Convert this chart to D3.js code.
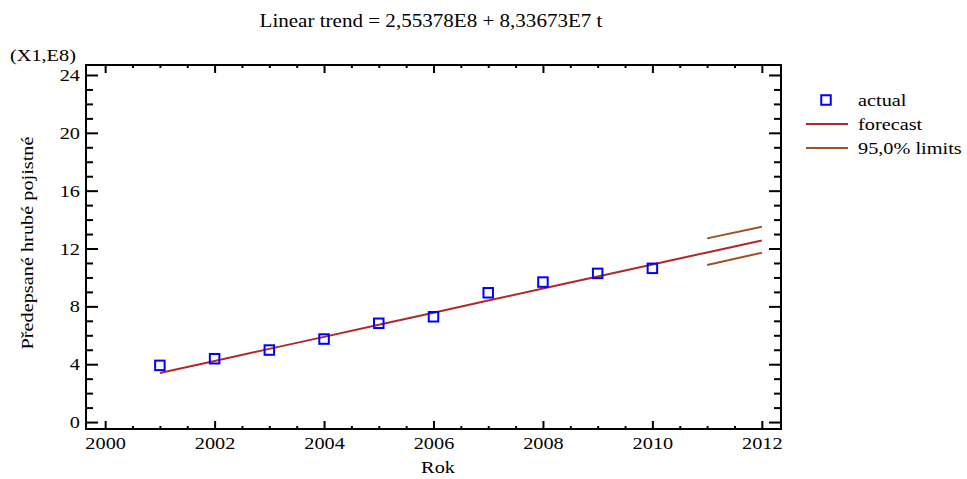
<!DOCTYPE html>
<html>
<head>
<meta charset="utf-8">
<script src="https://cdn.jsdelivr.net/npm/d3@7"></script>
<style>
  html, body { margin: 0; padding: 0; background: #fff; }
  svg { display: block; }
  text { font-family: "Liberation Serif", "Times New Roman", serif; fill: #000; }
</style>
</head>
<body>
<svg id="chart" width="967" height="479"></svg>
<script>
// Observed yearly values (×1E8)
const years = [2001, 2002, 2003, 2004, 2005, 2006, 2007, 2008, 2009, 2010];
const actual = [3.92, 4.38, 4.98, 5.74, 6.83, 7.28, 8.94, 9.68, 10.28, 10.63];

// Linear trend fitted values and forecast (×1E8)
const forecastYears = [2001, 2002, 2003, 2004, 2005, 2006, 2007, 2008, 2009, 2010, 2011, 2012];
const forecast = [3.39, 4.22, 5.06, 5.89, 6.73, 7.56, 8.40, 9.23, 10.06, 10.90, 11.73, 12.56];

// 95% forecast limits
const limitYears = [2011, 2012];
const upperLimit = [12.70, 13.51];
const lowerLimit = [10.86, 11.71];

// Axis ticks
const xMajor = [2000, 2002, 2004, 2006, 2008, 2010, 2012];
const yMajor = [0, 4, 8, 12, 16, 20, 24];

const titleText = "Linear trend = 2,55378E8 + 8,33673E7 t";
const xTitle = "Rok";
const yTitle = "Předepsané hrubé pojistné";
const yUnit = "(X1,E8)";
const legendLabels = ["actual", "forecast", "95,0% limits"];

const colors = { actual: "#0000ff", forecast: "#b0282c", limits: "#a0521e" };

const svg = d3.select("#chart");
const plot = { left: 86, right: 781, top: 65, bottom: 429 };
const SX = 1.16; // horizontal stretch of text glyphs

const x = d3.scaleLinear().domain([1999.65, 2012.35]).range([plot.left, plot.right]);
const y = d3.scaleLinear().domain([-0.48, 24.69]).range([plot.bottom, plot.top]);

const xMinor = d3.range(2000, 2012.01, 0.5).filter(v => !xMajor.includes(v));
const yMinor = d3.range(0, 24.01, 1).filter(v => !yMajor.includes(v));

function stretchText(sel, sx = SX) {
  sel.each(function () {
    const t = d3.select(this);
    const tx = +t.attr("x") || 0, ty = +t.attr("y") || 0;
    t.attr("x", 0).attr("y", 0)
     .attr("transform", `translate(${tx},${ty}) scale(${sx},1)`);
  });
}

// Bottom axis: inward ticks, labels below
const gx = svg.append("g").attr("transform", `translate(0,${plot.bottom})`)
  .call(d3.axisBottom(x).tickValues(xMajor).tickFormat(d3.format("d")).tickSizeInner(-8).tickSizeOuter(0).tickPadding(8));
gx.append("g").call(d3.axisBottom(x).tickValues(xMinor).tickFormat("").tickSizeInner(-3).tickSizeOuter(0));

// Top axis: inward ticks only
const gt = svg.append("g").attr("transform", `translate(0,${plot.top})`)
  .call(d3.axisTop(x).tickValues(xMajor).tickFormat("").tickSizeInner(-8).tickSizeOuter(0));
gt.append("g").call(d3.axisTop(x).tickValues(xMinor).tickFormat("").tickSizeInner(-3).tickSizeOuter(0));

// Left axis: inward ticks, labels left
const gy = svg.append("g").attr("transform", `translate(${plot.left},0)`)
  .call(d3.axisLeft(y).tickValues(yMajor).tickFormat(d3.format("d")).tickSizeInner(-12).tickSizeOuter(0).tickPadding(6));
gy.append("g").call(d3.axisLeft(y).tickValues(yMinor).tickFormat("").tickSizeInner(-7).tickSizeOuter(0));

// Right axis: inward ticks only
const gr = svg.append("g").attr("transform", `translate(${plot.right},0)`)
  .call(d3.axisRight(y).tickValues(yMajor).tickFormat("").tickSizeInner(-12).tickSizeOuter(0));
gr.append("g").call(d3.axisRight(y).tickValues(yMinor).tickFormat("").tickSizeInner(-7).tickSizeOuter(0));

svg.selectAll(".domain").remove();
svg.selectAll(".tick line").attr("stroke", "#000").attr("stroke-width", 2);
svg.selectAll(".tick text").attr("font-size", 17.5).style("font-family", '"Liberation Serif", serif').attr("fill", "#000");
// stretch tick label glyphs horizontally around their anchor
gx.selectAll(".tick text").attr("transform", `scale(${SX},1)`);
gy.selectAll(".tick text").attr("transform", `scale(${SX},1)`).attr("x", -6 / SX);

// Frame
svg.append("rect")
  .attr("x", plot.left).attr("y", plot.top)
  .attr("width", plot.right - plot.left).attr("height", plot.bottom - plot.top)
  .attr("fill", "none").attr("stroke", "#000").attr("stroke-width", 2);

// Forecast line
const line = d3.line().x(d => x(d[0])).y(d => y(d[1]));
svg.append("path")
  .datum(d3.zip(forecastYears, forecast))
  .attr("d", line).attr("fill", "none")
  .attr("stroke", colors.forecast).attr("stroke-width", 2);

// Limits
[upperLimit, lowerLimit].forEach(lim => {
  svg.append("path")
    .datum(d3.zip(limitYears, lim))
    .attr("d", line).attr("fill", "none")
    .attr("stroke", colors.limits).attr("stroke-width", 2);
});

// Actual points
const ms = 9.5;
svg.append("g").selectAll("rect")
  .data(d3.zip(years, actual))
  .join("rect")
  .attr("x", d => x(d[0]) - ms / 2).attr("y", d => y(d[1]) - ms / 2)
  .attr("width", ms).attr("height", ms)
  .attr("fill", "none").attr("stroke", colors.actual).attr("stroke-width", 2);

// Title
svg.append("text").attr("x", 431).attr("y", 27)
  .attr("text-anchor", "middle").attr("font-size", 18).text(titleText).call(stretchText, 1.17);

// Unit label
svg.append("text").attr("x", 10).attr("y", 61)
  .attr("font-size", 17.5).text(yUnit).call(stretchText);

// Axis titles
svg.append("text").attr("x", 438).attr("y", 473)
  .attr("text-anchor", "middle").attr("font-size", 17.5).text(xTitle).call(stretchText);

svg.append("text")
  .attr("transform", `translate(33,${(plot.top + plot.bottom) / 2 - 4}) rotate(-90) scale(${SX},1)`)
  .attr("text-anchor", "middle").attr("font-size", 17.5).text(yTitle);

// Legend
const lg = svg.append("g");
const lx = 806, ly = 100, lstep = 24;
lg.append("rect").attr("x", 826 - ms / 2).attr("y", ly - ms / 2).attr("width", ms).attr("height", ms)
  .attr("fill", "none").attr("stroke", colors.actual).attr("stroke-width", 2);
lg.append("line").attr("x1", lx).attr("x2", lx + 42).attr("y1", ly + lstep).attr("y2", ly + lstep)
  .attr("stroke", colors.forecast).attr("stroke-width", 2);
lg.append("line").attr("x1", lx).attr("x2", lx + 42).attr("y1", ly + 2 * lstep).attr("y2", ly + 2 * lstep)
  .attr("stroke", colors.limits).attr("stroke-width", 2);
legendLabels.forEach((t, i) => {
  lg.append("text").attr("x", 858).attr("y", ly + i * lstep + 6)
    .attr("font-size", 17.5).text(t).call(stretchText);
});
</script>
</body>
</html>
